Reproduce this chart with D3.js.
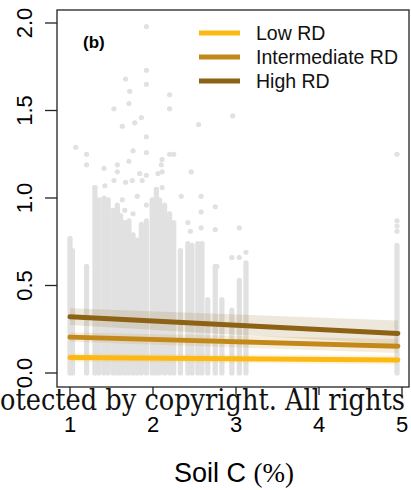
<!DOCTYPE html>
<html><head>
<script src="https://d3js.org/d3.v7.min.js"></script>
<style>
  body { margin: 0; background: #fff; }
  svg { display: block; }
</style>
</head>
<body>
<svg id="chart" width="411" height="490"></svg>
<script>
// dense columns of observations: soil C (%) and the highest value in each column
const colX   = [1.00, 1.03, 1.20, 1.30, 1.35, 1.41, 1.46, 1.52, 1.57, 1.61, 1.66, 1.71, 1.76, 1.81,
                1.86, 1.92, 1.99, 2.04, 2.08, 2.14, 2.20, 2.25, 2.33, 2.42, 2.47, 2.54, 2.59, 2.66,
                2.75, 2.83, 2.95, 3.04, 3.12, 4.94];
const colTop = [0.77, 0.70, 0.61, 1.06, 0.99, 1.00, 0.99, 0.93, 0.96, 0.90, 0.86, 0.87, 0.79, 0.76,
                0.85, 0.87, 0.99, 1.05, 0.99, 0.96, 0.91, 0.86, 0.70, 0.74, 0.73, 0.74, 0.74, 0.42,
                0.61, 0.42, 0.36, 0.53, 0.63, 0.73];

// scattered observations above the columns
const ptX = [1.92, 1.92, 1.67, 1.92, 1.72, 2.20, 1.71, 1.53, 2.20, 1.86, 1.78, 1.63, 2.55, 2.96,
             1.92, 1.07, 1.20, 1.20, 1.76, 1.92, 2.20, 2.25, 1.41, 1.57, 1.71, 2.11, 2.10, 2.46,
             1.57, 1.84, 1.92, 2.06, 2.11, 1.53, 1.67, 1.75, 1.87, 1.42, 1.30, 2.11, 4.94, 4.94,
             4.94, 4.94, 2.58, 2.58, 2.58, 2.75, 2.75, 3.04, 3.04, 3.12, 2.77, 2.42, 2.45, 2.95,
             1.81, 1.63, 1.76, 1.92, 1.66, 2.34];
const ptY = [1.98, 1.73, 1.68, 1.65, 1.61, 1.59, 1.54, 1.51, 1.51, 1.46, 1.43, 1.41, 1.42, 1.47,
             1.35, 1.29, 1.25, 1.19, 1.27, 1.26, 1.25, 1.25, 1.17, 1.19, 1.21, 1.22, 1.19, 1.15,
             1.15, 1.14, 1.13, 1.14, 1.15, 1.10, 1.09, 1.10, 1.10, 1.07, 1.06, 1.06, 1.25, 0.87,
             0.84, 0.81, 1.01, 0.92, 0.83, 0.95, 0.82, 0.83, 0.66, 0.69, 0.61, 0.86, 0.81, 0.66,
             1.01, 0.99, 0.91, 0.96, 0.93, 1.01];

// fitted lines with confidence bands, at soil C = 1 and 4.95
const fitX   = [1, 4.95];
const groups = ["Low RD", "Intermediate RD", "High RD"];
const colors = ["#FDB913", "#C2891A", "#8E6214"];
const fitY   = [[0.088, 0.074], [0.205, 0.153], [0.322, 0.226]];
const fitLo  = [[0.065, 0.048], [0.178, 0.115], [0.275, 0.165]];
const fitHi  = [[0.111, 0.100], [0.232, 0.195], [0.370, 0.300]];

const xTicks = [1, 2, 3, 4, 5];
const yTicks = [0, 0.5, 1.0, 1.5, 2.0];

let svg = d3.select("svg#chart");
const box = {left: 57, right: 409, top: 10, bottom: 387};

let x = d3.scaleLinear().domain([1, 5]).range([70, 402]);
let y = d3.scaleLinear().domain([0, 2]).range([373, 23]);

const dotR = 2.6;
const grey = "#E1E1E1";

// columns of points
colX.forEach((d, i) => {
  svg.append("rect")
     .attr("x", x(d) - dotR)
     .attr("y", y(colTop[i]) - dotR)
     .attr("width", dotR * 2)
     .attr("height", y(0) - y(colTop[i]) + dotR * 2)
     .attr("rx", dotR)
     .style("fill", grey);
});

ptX.forEach((d, i) => {
  svg.append("circle")
     .attr("cx", x(d))
     .attr("cy", y(ptY[i]))
     .attr("r", dotR)
     .style("fill", grey);
});

// bands and lines
groups.forEach((g, k) => {
  let area = d3.area()
      .x((d, i) => x(fitX[i]))
      .y0((d, i) => y(fitLo[k][i]))
      .y1((d, i) => y(fitHi[k][i]));
  svg.append("path")
     .attr("d", area(fitX))
     .style("fill", colors[k])
     .style("opacity", 0.15);
});

groups.forEach((g, k) => {
  svg.append("line")
     .attr("x1", x(fitX[0]))
     .attr("x2", x(fitX[1]))
     .attr("y1", y(fitY[k][0]))
     .attr("y2", y(fitY[k][1]))
     .style("stroke", colors[k])
     .style("stroke-width", 5)
     .style("stroke-linecap", "round");
});

// frame
svg.append("rect")
   .attr("x", box.left)
   .attr("y", box.top)
   .attr("width", box.right - box.left)
   .attr("height", box.bottom - box.top)
   .style("fill", "none")
   .style("stroke", "#222")
   .style("stroke-width", 1.3);

// y axis
yTicks.forEach(t => {
  svg.append("line")
     .attr("x1", box.left - 12).attr("x2", box.left)
     .attr("y1", y(t)).attr("y2", y(t))
     .style("stroke", "#222").style("stroke-width", 1.3);
  svg.append("text")
     .attr("transform", `translate(32,${y(t)}) rotate(-90)`)
     .attr("text-anchor", "middle")
     .style("font-family", "Liberation Sans, Arial, sans-serif")
     .style("font-size", "22px")
     .text(t.toFixed(1));
});

// x axis
xTicks.forEach(t => {
  svg.append("line")
     .attr("x1", x(t)).attr("x2", x(t))
     .attr("y1", box.bottom).attr("y2", box.bottom + 8)
     .style("stroke", "#222").style("stroke-width", 1.3);
  svg.append("text")
     .attr("x", x(t))
     .attr("y", 432)
     .attr("text-anchor", "middle")
     .style("font-family", "Liberation Sans, Arial, sans-serif")
     .style("font-size", "22px")
     .text(t);
});

let xl = svg.append("text")
   .attr("x", 234)
   .attr("y", 482)
   .attr("text-anchor", "middle")
   .style("font-family", "Liberation Sans, Arial, sans-serif")
   .style("font-size", "27px");
xl.append("tspan").text("Soil C ");
xl.append("tspan").style("font-family", "Liberation Serif, serif").text("(%)");

// panel label
svg.append("text")
   .attr("x", 83)
   .attr("y", 48)
   .style("font-family", "Liberation Sans, Arial, sans-serif")
   .style("font-size", "17px")
   .style("font-weight", "bold")
   .text("(b)");

// legend
const legY = [33, 57, 81];
groups.forEach((g, k) => {
  svg.append("line")
     .attr("x1", 199).attr("x2", 240)
     .attr("y1", legY[k]).attr("y2", legY[k])
     .style("stroke", colors[k])
     .style("stroke-width", 5);
  svg.append("text")
     .attr("x", 256)
     .attr("y", legY[k] + 7)
     .style("font-family", "Liberation Sans, Arial, sans-serif")
     .style("font-size", "19.5px")
     .style("fill", "#111")
     .text(g);
});

// page text crossing the figure
svg.append("text")
   .attr("x", 0)
   .attr("y", 410)
   .attr("textLength", 405)
   .attr("lengthAdjust", "spacingAndGlyphs")
   .style("font-family", "DejaVu Serif, Liberation Serif, serif")
   .style("font-size", "29px")
   .style("fill", "#111")
   .text("otected by copyright. All rights");
</script>
</body>
</html>
